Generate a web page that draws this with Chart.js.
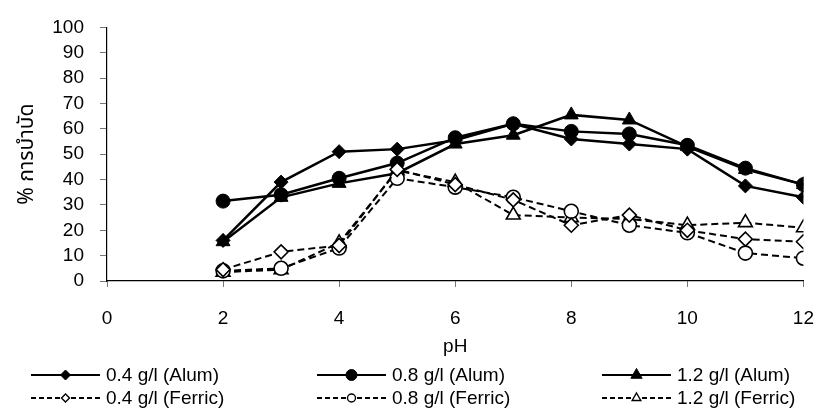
<!DOCTYPE html>
<html>
<head>
<meta charset="utf-8">
<script src="https://cdn.jsdelivr.net/npm/chart.js@4.4.1/dist/chart.umd.min.js"></script>
<style>
  html, body { margin: 0; padding: 0; background: #ffffff; }
  #wrap { width: 834px; height: 412px; position: relative; }
</style>
</head>
<body>
<div id="wrap"><canvas id="chart" width="834" height="412"></canvas></div>
<script>
// pH values at which treatment efficiency was measured
const phValues = [2, 3, 4, 5, 6, 7, 8, 9, 10, 11, 12];

// % treatment with alum
const alum04 = [16, 39, 51, 52, 55.5, 62, 56, 54, 52, 37.5, 33];
const alum08 = [31.5, 34, 40.5, 46.5, 56.5, 62, 59, 58, 53.5, 44.5, 38];
const alum12 = [15.5, 33, 38.5, 42.5, 54, 57.5, 65.5, 63.5, 53, 44, 38];

// % treatment with ferric
const ferric04 = [4.5, 11.5, 14, 44, 38, 32, 22, 26, 20, 16.5, 15.5];
const ferric08 = [4, 5, 13, 40.5, 37, 33, 27.5, 22, 19, 11, 9];
const ferric12 = [3.5, 4.5, 15, 43.5, 39, 26, 25, 24.5, 22, 23, 21];

// Axis ticks
const xTicks = [0, 2, 4, 6, 8, 10, 12];
const yTicks = [0, 10, 20, 30, 40, 50, 60, 70, 80, 90, 100];

const seriesLabels = [
  '0.4 g/l (Alum)', '0.8 g/l (Alum)', '1.2 g/l (Alum)',
  '0.4 g/l (Ferric)', '0.8 g/l (Ferric)', '1.2 g/l (Ferric)'
];

const FONT = "'Liberation Sans', Arial, sans-serif";

function toPoints(values) {
  return values.map((v, i) => ({ x: phValues[i], y: v }));
}

function solidSeries(label, values, style, radius) {
  return {
    label, data: toPoints(values),
    borderColor: '#000', backgroundColor: '#000',
    borderWidth: 2.5, borderDash: [],
    pointStyle: style, pointRadius: radius,
    pointBackgroundColor: '#000', pointBorderColor: '#000', pointBorderWidth: 1,
    legendRadius: style === 'rectRot' ? 5 : (style === 'triangle' ? 6.5 : 5.5),
    order: 1, tension: 0
  };
}

function dashedSeries(label, values, style, radius) {
  return {
    label, data: toPoints(values),
    borderColor: '#000', backgroundColor: '#fff',
    borderWidth: 2, borderDash: [7, 4],
    pointStyle: style, pointRadius: radius,
    pointBackgroundColor: '#fff', pointBorderColor: '#000', pointBorderWidth: 1.6,
    legendRadius: style === 'triangle' ? 5 : 4,
    order: 0, tension: 0
  };
}

const datasets = [
  solidSeries(seriesLabels[0], alum04, 'rectRot', 7),
  solidSeries(seriesLabels[1], alum08, 'circle', 7),
  solidSeries(seriesLabels[2], alum12, 'triangle', 8),
  dashedSeries(seriesLabels[3], ferric04, 'rectRot', 7),
  dashedSeries(seriesLabels[4], ferric08, 'circle', 7),
  dashedSeries(seriesLabels[5], ferric12, 'triangle', 8)
];

// Legend drawn below the axis: three columns, two rows
const legendPlugin = {
  id: 'sampleLegend',
  afterDraw(chart) {
    const ctx = chart.ctx;
    const colX = [31, 317, 602];
    const rowY = [375, 398];
    const lineLen = 69;
    const textGap = 6;
    ctx.save();
    chart.data.datasets.forEach((ds, i) => {
      const col = i % 3, row = Math.floor(i / 3);
      const x0 = colX[col], y = rowY[row];
      ctx.beginPath();
      ctx.strokeStyle = '#000';
      ctx.lineWidth = ds.borderDash.length ? 1.8 : 2;
      ctx.setLineDash(ds.borderDash.length ? [5, 3] : []);
      ctx.moveTo(x0, y);
      ctx.lineTo(x0 + lineLen, y);
      ctx.stroke();
      ctx.setLineDash([]);
      ctx.fillStyle = ds.pointBackgroundColor;
      ctx.strokeStyle = '#000';
      ctx.lineWidth = ds.borderDash.length ? 1.4 : 1;
      Chart.helpers.drawPoint(ctx, {
        pointStyle: ds.pointStyle, rotation: 0,
        radius: ds.legendRadius, borderWidth: ctx.lineWidth
      }, x0 + lineLen / 2, y);
      ctx.fillStyle = '#000';
      ctx.font = '19px ' + FONT;
      ctx.textBaseline = 'middle';
      ctx.textAlign = 'left';
      ctx.fillText(ds.label, x0 + lineLen + textGap, y + 1);
    });
    ctx.restore();
  }
};

new Chart(document.getElementById('chart'), {
  type: 'line',
  data: { datasets },
  options: {
    responsive: false,
    animation: false,
    layout: { padding: { top: 23, right: 14, bottom: 54, left: 0 } },
    plugins: { legend: { display: false }, tooltip: { enabled: false } },
    scales: {
      x: {
        type: 'linear', min: 0, max: 12,
        afterBuildTicks(scale) { scale.ticks = xTicks.map(v => ({ value: v })); },
        afterFit(scale) { scale.height = 77; },
        border: { display: true, color: '#000', width: 1.2 },
        grid: { display: true, drawOnChartArea: false, drawTicks: true, tickLength: 6, color: '#777' },
        ticks: { color: '#000', font: { family: FONT, size: 19 }, padding: 20, maxRotation: 0, autoSkip: false },
        title: {
          display: true, text: 'pH', color: '#000',
          font: { family: FONT, size: 19 }, padding: { top: 4, bottom: 0 }
        }
      },
      y: {
        type: 'linear', min: 0, max: 100,
        afterBuildTicks(scale) { scale.ticks = yTicks.map(v => ({ value: v })); },
        afterFit(scale) { scale.width = 107; },
        border: { display: true, color: '#000', width: 1.2 },
        grid: { display: true, drawOnChartArea: false, drawTicks: true, tickLength: 7, color: '#777' },
        ticks: { color: '#000', font: { family: FONT, size: 19 }, padding: 16, autoSkip: false },
        title: {
          display: true, text: '% การบำบัด', color: '#000',
          font: { family: "'Noto Sans Thai', 'Noto Sans', " + FONT, size: 21 },
          padding: { top: 16, bottom: 0 }
        }
      }
    }
  },
  plugins: [legendPlugin]
});
</script>
</body>
</html>
